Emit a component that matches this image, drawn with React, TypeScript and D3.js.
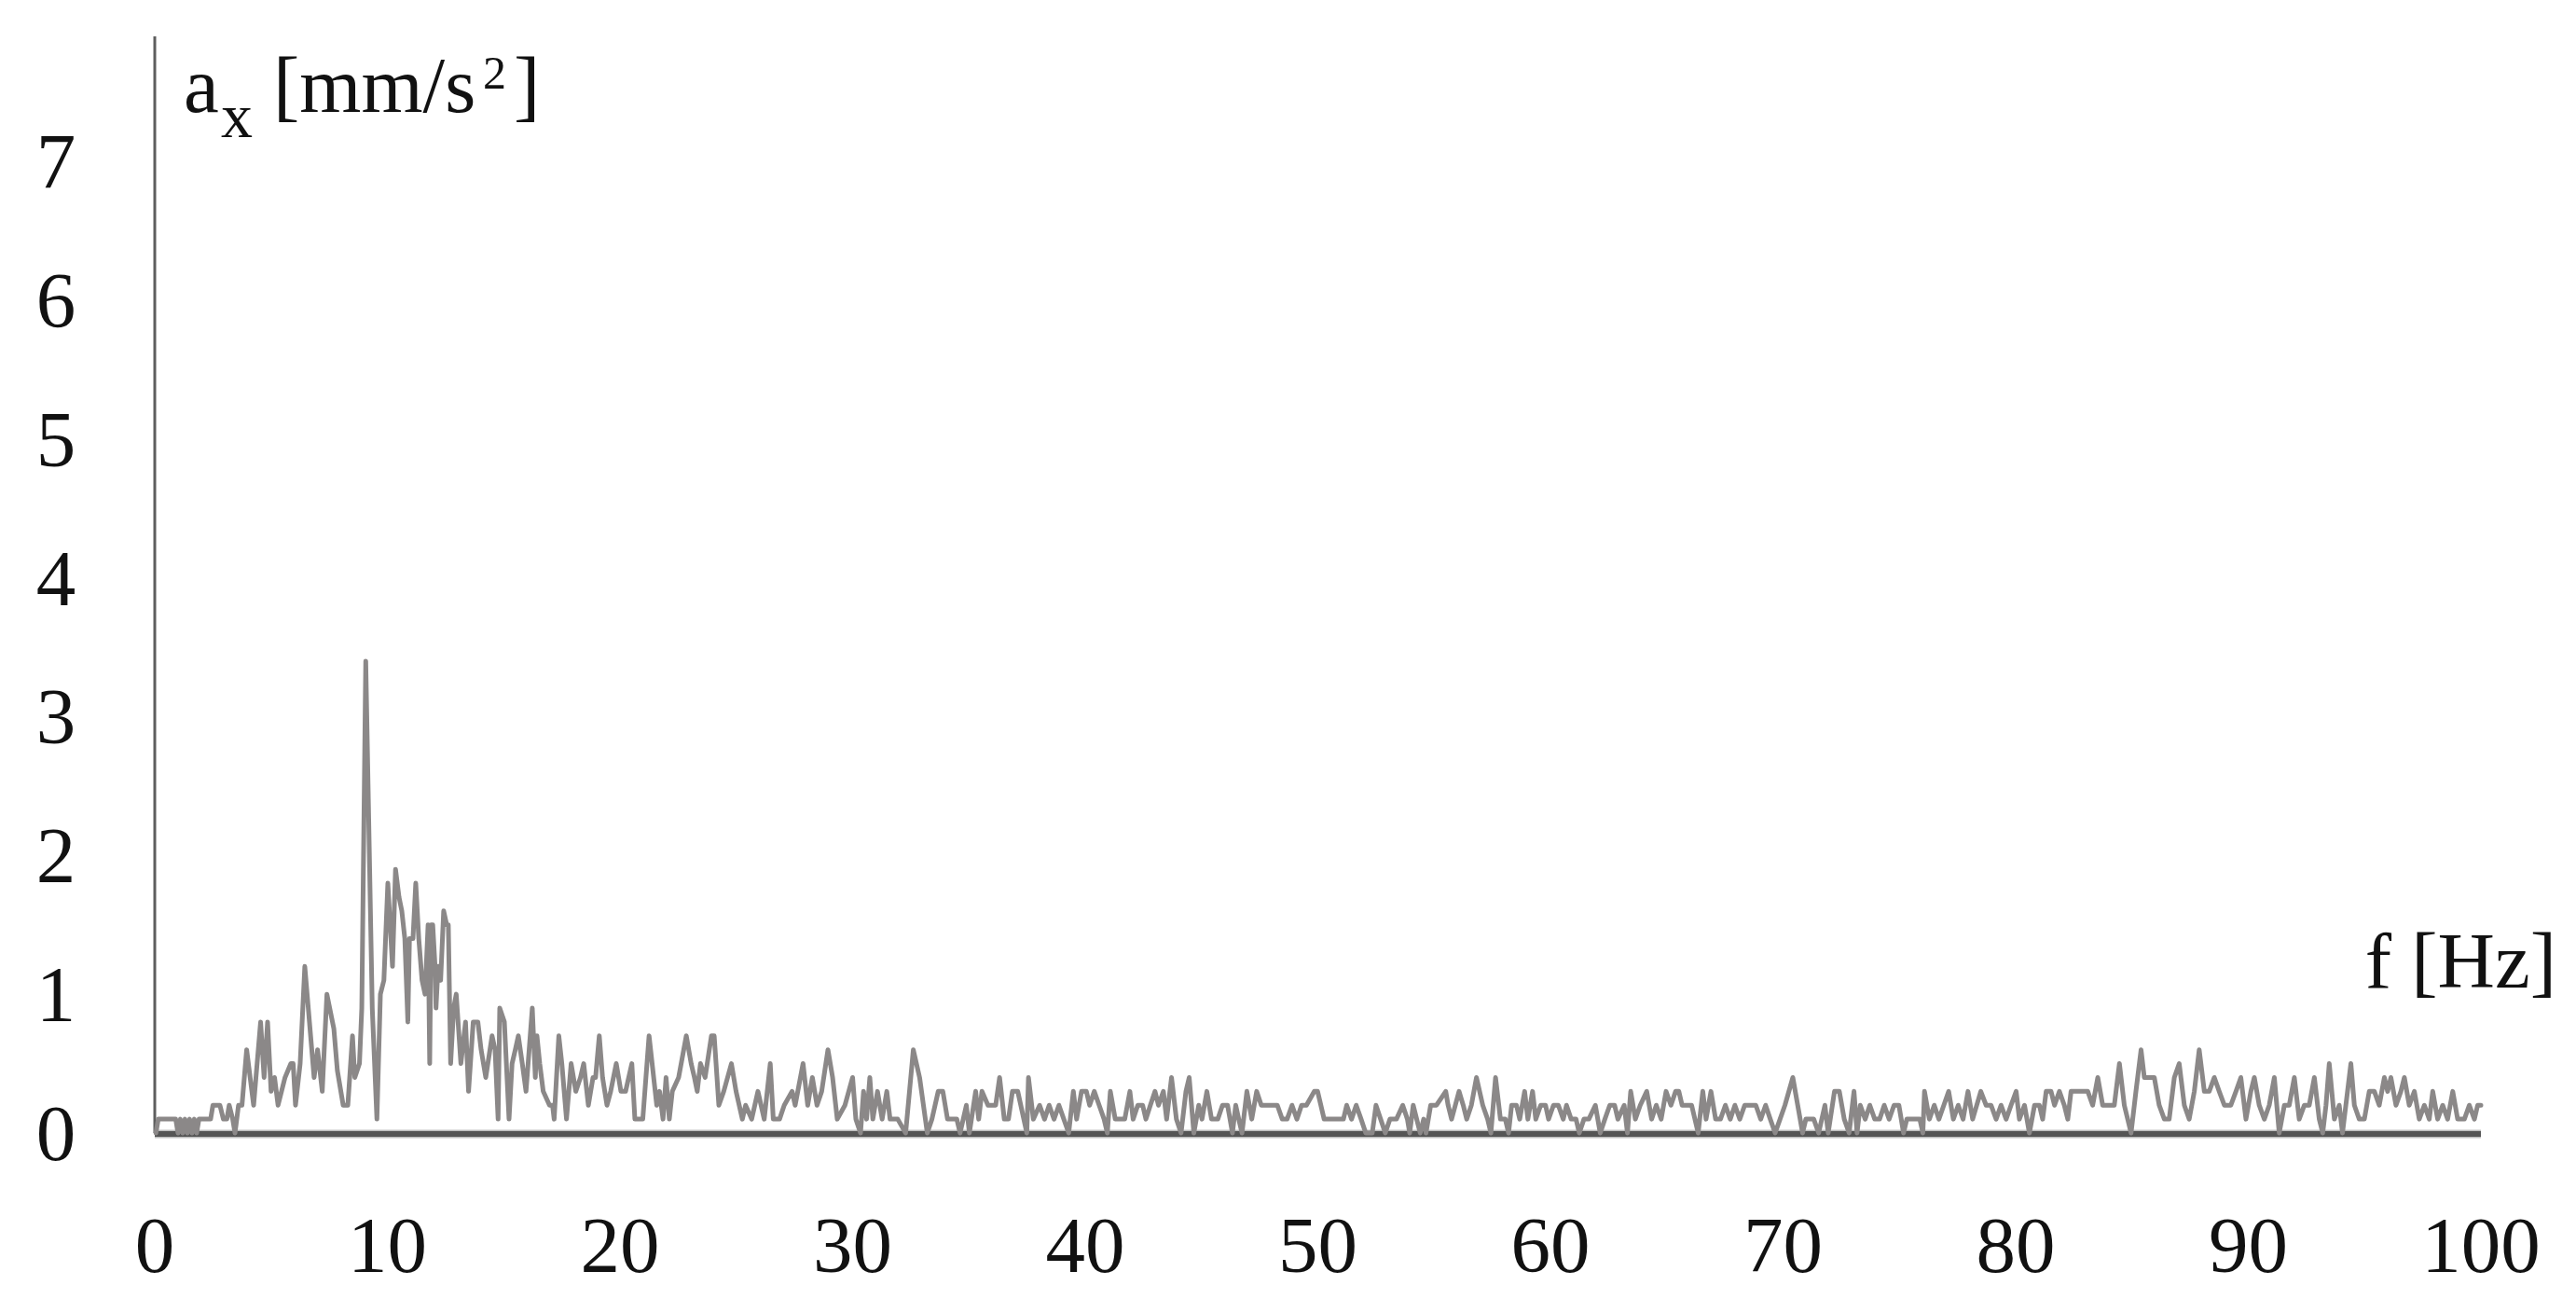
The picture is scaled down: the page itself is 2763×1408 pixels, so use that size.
import React from "react";
import * as d3 from "d3";

// Spectrum a_x [mm/s^2] vs f [Hz] in bands
const band0to10: [number, number][] = [
  [0.05, 0], [0.15, 0.1], [0.9, 0.1], [1.0, 0], [1.1, 0.1], [1.2, 0], [1.3, 0.1], [1.4, 0],
  [1.5, 0.1], [1.6, 0], [1.7, 0.1], [1.8, 0], [1.9, 0.1], [2.4, 0.1], [2.5, 0.2], [2.8, 0.2],
  [2.95, 0.1], [3.1, 0.1], [3.2, 0.2], [3.35, 0.1], [3.45, 0], [3.6, 0.2], [3.75, 0.2],
  [3.95, 0.6], [4.1, 0.4], [4.25, 0.2], [4.35, 0.4], [4.55, 0.8], [4.7, 0.4], [4.85, 0.8],
  [5.0, 0.3], [5.15, 0.4], [5.3, 0.2], [5.6, 0.4], [5.85, 0.5], [5.95, 0.5], [6.05, 0.2],
  [6.25, 0.5], [6.45, 1.2], [6.75, 0.6], [6.85, 0.4], [7.0, 0.6], [7.2, 0.3], [7.4, 1.0],
  [7.7, 0.75], [7.85, 0.45], [8.1, 0.2], [8.3, 0.2], [8.5, 0.7], [8.6, 0.4], [8.8, 0.5],
  [8.9, 0.9], [9.07, 3.4], [9.35, 0.9], [9.55, 0.1], [9.7, 1.0], [9.85, 1.1],
];

const band10to20: [number, number][] = [
  [10.02, 1.8], [10.22, 1.2], [10.35, 1.9], [10.5, 1.7], [10.62, 1.6], [10.75, 1.4], [10.88, 0.8],
  [10.95, 1.4], [11.1, 1.4], [11.22, 1.8], [11.35, 1.4], [11.49, 1.1], [11.62, 1.0], [11.75, 1.5],
  [11.82, 0.5], [11.88, 1.5], [11.95, 1.5], [12.05, 1.2], [12.09, 0.9], [12.18, 1.2], [12.22, 1.2],
  [12.29, 1.1], [12.42, 1.6], [12.55, 1.5], [12.62, 1.5], [12.72, 0.5], [12.85, 0.9], [12.96, 1.0],
  [13.16, 0.5], [13.36, 0.8], [13.49, 0.3], [13.69, 0.8], [13.89, 0.8], [14.03, 0.6], [14.23, 0.4],
  [14.5, 0.7], [14.63, 0.6], [14.76, 0.1], [14.83, 0.9], [15.03, 0.8], [15.23, 0.1], [15.36, 0.5],
  [15.5, 0.6], [15.63, 0.7], [15.8, 0.5], [15.96, 0.3], [16.23, 0.9], [16.36, 0.4], [16.43, 0.7],
  [16.55, 0.5], [16.7, 0.3], [16.97, 0.2], [17.1, 0.2], [17.17, 0.1], [17.37, 0.7], [17.5, 0.5],
  [17.7, 0.1], [17.9, 0.5], [18.1, 0.3], [18.3, 0.4], [18.44, 0.5], [18.64, 0.2], [18.84, 0.4],
  [18.95, 0.4], [19.11, 0.7], [19.25, 0.4], [19.44, 0.2], [19.6, 0.3], [19.84, 0.5],
];

const band20to36: [number, number][] = [
  [20.04, 0.3], [20.24, 0.3], [20.51, 0.5], [20.64, 0.1], [20.98, 0.1], [21.25, 0.7], [21.58, 0.2],
  [21.7, 0.3], [21.85, 0.1], [21.98, 0.4], [22.12, 0.1], [22.25, 0.3], [22.52, 0.4], [22.85, 0.7],
  [23.06, 0.5], [23.2, 0.4], [23.32, 0.3], [23.46, 0.5], [23.66, 0.4], [23.93, 0.7], [24.05, 0.7],
  [24.25, 0.2], [24.46, 0.3], [24.79, 0.5], [24.99, 0.3], [25.26, 0.1], [25.4, 0.2], [25.66, 0.1],
  [25.93, 0.3], [26.2, 0.1], [26.46, 0.5], [26.59, 0.1], [26.86, 0.1], [27.06, 0.2], [27.4, 0.3],
  [27.53, 0.2], [27.87, 0.5], [28.07, 0.2], [28.27, 0.4], [28.47, 0.2], [28.67, 0.3], [28.94, 0.6],
  [29.14, 0.4], [29.34, 0.1], [29.67, 0.2], [30.0, 0.4], [30.14, 0.1], [30.34, 0], [30.47, 0.3],
  [30.6, 0.1], [30.74, 0.4], [30.87, 0.1], [31.07, 0.3], [31.27, 0.1], [31.47, 0.3], [31.61, 0.1],
  [31.94, 0.1], [32.28, 0], [32.61, 0.6], [32.88, 0.4], [33.21, 0], [33.41, 0.1], [33.68, 0.3],
  [33.88, 0.3], [34.08, 0.1], [34.48, 0.1], [34.62, 0], [34.89, 0.2], [35.02, 0], [35.29, 0.3],
  [35.42, 0.1], [35.56, 0.3], [35.82, 0.2],
];

const band36to57: [number, number][] = [
  [36.0, 0.2], [36.15, 0.2], [36.32, 0.4], [36.52, 0.1], [36.7, 0.1], [36.87, 0.3], [37.1, 0.3],
  [37.49, 0], [37.56, 0.4], [37.77, 0.1], [38.04, 0.2], [38.25, 0.1], [38.45, 0.2], [38.66, 0.1],
  [38.87, 0.2], [39.08, 0.1], [39.29, 0], [39.49, 0.3], [39.63, 0.1], [39.84, 0.3], [40.05, 0.3],
  [40.19, 0.2], [40.39, 0.3], [40.6, 0.2], [40.81, 0.1], [40.95, 0], [41.08, 0.3], [41.29, 0.1],
  [41.7, 0.1], [41.92, 0.3], [42.06, 0.1], [42.26, 0.2], [42.47, 0.2], [42.61, 0.1], [42.8, 0.2],
  [43.0, 0.3], [43.15, 0.2], [43.36, 0.3], [43.5, 0.1], [43.71, 0.4], [43.92, 0.1], [44.12, 0],
  [44.33, 0.3], [44.47, 0.4], [44.67, 0], [44.88, 0.2], [45.02, 0.1], [45.23, 0.3], [45.43, 0.1],
  [45.7, 0.1], [45.9, 0.2], [46.12, 0.2], [46.33, 0], [46.47, 0.2], [46.6, 0.1], [46.74, 0],
  [46.95, 0.3], [47.16, 0.1], [47.37, 0.3], [47.57, 0.2], [48.26, 0.2], [48.47, 0.1], [48.68, 0.1],
  [48.89, 0.2], [49.1, 0.1], [49.3, 0.2], [49.51, 0.2], [49.85, 0.3], [49.99, 0.3], [50.27, 0.1],
  [51.1, 0.1], [51.24, 0.2], [51.45, 0.1], [51.65, 0.2], [51.86, 0.1], [52.06, 0], [52.34, 0],
  [52.5, 0.2], [52.7, 0.1], [52.9, 0], [53.1, 0.1], [53.38, 0.1], [53.65, 0.2], [53.85, 0.1],
  [53.95, 0], [54.1, 0.2], [54.25, 0.1], [54.4, 0], [54.55, 0.1], [54.65, 0], [54.85, 0.2],
  [55.1, 0.2], [55.5, 0.3], [55.6, 0.2], [55.75, 0.1], [56.07, 0.3], [56.25, 0.2], [56.4, 0.1],
  [56.6, 0.2], [56.82, 0.4],
];

const band57to78: [number, number][] = [
  [57.09, 0.2], [57.3, 0.1], [57.44, 0], [57.64, 0.4], [57.85, 0.1], [58.06, 0.1], [58.2, 0],
  [58.33, 0.2], [58.54, 0.2], [58.68, 0.1], [58.89, 0.3], [59.03, 0.1], [59.23, 0.3], [59.37, 0.1],
  [59.58, 0.2], [59.79, 0.2], [59.92, 0.1], [60.13, 0.2], [60.34, 0.2], [60.55, 0.1], [60.69, 0.2],
  [60.89, 0.1], [61.1, 0.1], [61.24, 0], [61.44, 0.1], [61.65, 0.1], [61.93, 0.2], [62.14, 0],
  [62.34, 0.1], [62.55, 0.2], [62.76, 0.2], [62.9, 0.1], [63.17, 0.2], [63.31, 0], [63.45, 0.3],
  [63.65, 0.1], [63.86, 0.2], [64.14, 0.3], [64.35, 0.1], [64.55, 0.2], [64.76, 0.1], [64.97, 0.3],
  [65.18, 0.2], [65.38, 0.3], [65.52, 0.3], [65.66, 0.2], [65.87, 0.2], [66.07, 0.2], [66.35, 0],
  [66.55, 0.3], [66.69, 0.1], [66.9, 0.3], [67.1, 0.1], [67.31, 0.1], [67.52, 0.2], [67.73, 0.1],
  [67.93, 0.2], [68.14, 0.1], [68.35, 0.2], [68.55, 0.2], [68.83, 0.2], [69.04, 0.1], [69.25, 0.2],
  [69.45, 0.1], [69.66, 0], [69.87, 0.1], [70.08, 0.2], [70.42, 0.4], [70.63, 0.2], [70.84, 0],
  [70.98, 0.1], [71.32, 0.1], [71.53, 0], [71.8, 0.2], [71.94, 0], [72.21, 0.3], [72.42, 0.3],
  [72.63, 0.1], [72.84, 0], [73.05, 0.3], [73.18, 0], [73.32, 0.2], [73.53, 0.1], [73.73, 0.2],
  [73.94, 0.1], [74.15, 0.1], [74.35, 0.2], [74.56, 0.1], [74.77, 0.2], [74.98, 0.2], [75.18, 0],
  [75.32, 0.1], [75.88, 0.1], [76.01, 0], [76.08, 0.3], [76.29, 0.1], [76.5, 0.2], [76.7, 0.1],
  [76.91, 0.2], [77.12, 0.3], [77.32, 0.1], [77.53, 0.2], [77.74, 0.1], [77.95, 0.3],
];

const band78to100: [number, number][] = [
  [78.15, 0.1], [78.5, 0.3], [78.73, 0.2], [78.94, 0.2], [79.16, 0.1], [79.37, 0.2], [79.59, 0.1],
  [79.8, 0.2], [80.02, 0.3], [80.16, 0.1], [80.38, 0.2], [80.59, 0], [80.81, 0.2], [81.02, 0.2],
  [81.16, 0.1], [81.31, 0.3], [81.52, 0.3], [81.67, 0.2], [81.88, 0.3], [82.09, 0.2], [82.24, 0.1],
  [82.38, 0.3], [82.67, 0.3], [82.88, 0.3], [83.1, 0.3], [83.31, 0.2], [83.53, 0.4], [83.74, 0.2],
  [83.96, 0.2], [84.24, 0.2], [84.46, 0.5], [84.67, 0.2], [84.96, 0], [85.17, 0.3], [85.39, 0.6],
  [85.53, 0.4], [85.75, 0.4], [85.96, 0.4], [86.17, 0.2], [86.39, 0.1], [86.6, 0.1], [86.82, 0.4],
  [87.03, 0.5], [87.25, 0.2], [87.46, 0.1], [87.68, 0.3], [87.89, 0.6], [88.11, 0.3], [88.32, 0.3],
  [88.54, 0.4], [88.75, 0.3], [88.97, 0.2], [89.25, 0.2], [89.47, 0.3], [89.68, 0.4], [89.9, 0.1],
  [90.11, 0.3], [90.26, 0.4], [90.47, 0.2], [90.69, 0.1], [90.9, 0.2], [91.12, 0.4], [91.33, 0],
  [91.55, 0.2], [91.76, 0.2], [91.98, 0.4], [92.19, 0.1], [92.41, 0.2], [92.62, 0.2], [92.84, 0.4],
  [93.05, 0.1], [93.2, 0], [93.34, 0.2], [93.48, 0.5], [93.7, 0.1], [93.91, 0.2], [94.05, 0],
  [94.41, 0.5], [94.56, 0.2], [94.77, 0.1], [94.99, 0.1], [95.2, 0.3], [95.42, 0.3], [95.63, 0.2],
  [95.85, 0.4], [95.99, 0.3], [96.13, 0.4], [96.35, 0.2], [96.56, 0.3], [96.71, 0.4], [96.92, 0.2],
  [97.14, 0.3], [97.35, 0.1], [97.57, 0.2], [97.78, 0.1], [97.93, 0.3], [98.14, 0.1], [98.36, 0.2],
  [98.57, 0.1], [98.79, 0.3], [99.0, 0.1], [99.29, 0.1], [99.5, 0.2], [99.72, 0.1], [99.86, 0.2],
  [100.0, 0.2],
];

const yTicks = [0, 1, 2, 3, 4, 5, 6, 7];
const xTicks = [0, 10, 20, 30, 40, 50, 60, 70, 80, 90, 100];

const W = 2763;
const H = 1408;
const FONT = "'Liberation Serif', 'Times New Roman', serif";

export default function App() {
  const series = [
    ...band0to10,
    ...band10to20,
    ...band20to36,
    ...band36to57,
    ...band57to78,
    ...band78to100,
  ];

  const x = d3.scaleLinear().domain([0, 100]).range([166, 2661]);
  const y = d3.scaleLinear().domain([0, 7]).range([1215, 173]);

  const line = d3
    .line<[number, number]>()
    .x((d) => x(d[0]))
    .y((d) => y(d[1]))
    .curve(d3.curveLinear);

  const fs = 85;

  return (
    <svg
      width={W}
      height={H}
      viewBox={`0 0 ${W} ${H}`}
      style={{ position: "absolute", left: 0, top: 0, background: "#ffffff" }}
      fontFamily={FONT}
    >
      <rect x={0} y={0} width={W} height={H} fill="#ffffff" />
      {/* y axis line */}
      <line x1={x(0)} x2={x(0)} y1={y(7.9)} y2={y(0)} stroke="#5e5e5e" strokeWidth={3} />
      {/* baseline */}
      <line x1={x(0)} x2={x(100)} y1={y(0) + 1} y2={y(0) + 1} stroke="#bdbdbd" strokeWidth={9} />
      <line x1={x(0)} x2={x(100)} y1={y(0) + 1} y2={y(0) + 1} stroke="#555555" strokeWidth={6} />
      {/* data */}
      <path
        d={line(series) || ""}
        fill="none"
        stroke="#8b8888"
        strokeWidth={5}
        strokeLinejoin="round"
        strokeLinecap="round"
      />
      {/* y tick labels */}
      {yTicks.map((t) => (
        <text key={"y" + t} x={60} y={y(t) + 29} fontSize={fs} textAnchor="middle" fill="#111">
          {t}
        </text>
      ))}
      {/* x tick labels */}
      {xTicks.map((t) => (
        <text key={"x" + t} x={x(t)} y={1364} fontSize={fs} textAnchor="middle" fill="#111">
          {t}
        </text>
      ))}
      {/* y axis title */}
      <text fill="#111" fontSize={fs}>
        <tspan x={197} y={120}>a</tspan>
        <tspan x={237} y={147} fontSize={68}>x</tspan>
        <tspan x={293} y={120}>[mm/s</tspan>
        <tspan x={518} y={95} fontSize={50}>2</tspan>
        <tspan x={551} y={120}>]</tspan>
      </text>
      {/* x axis title */}
      <text x={2742} y={1059} fontSize={fs} textAnchor="end" fill="#111">
        f [Hz]
      </text>
    </svg>
  );
}
